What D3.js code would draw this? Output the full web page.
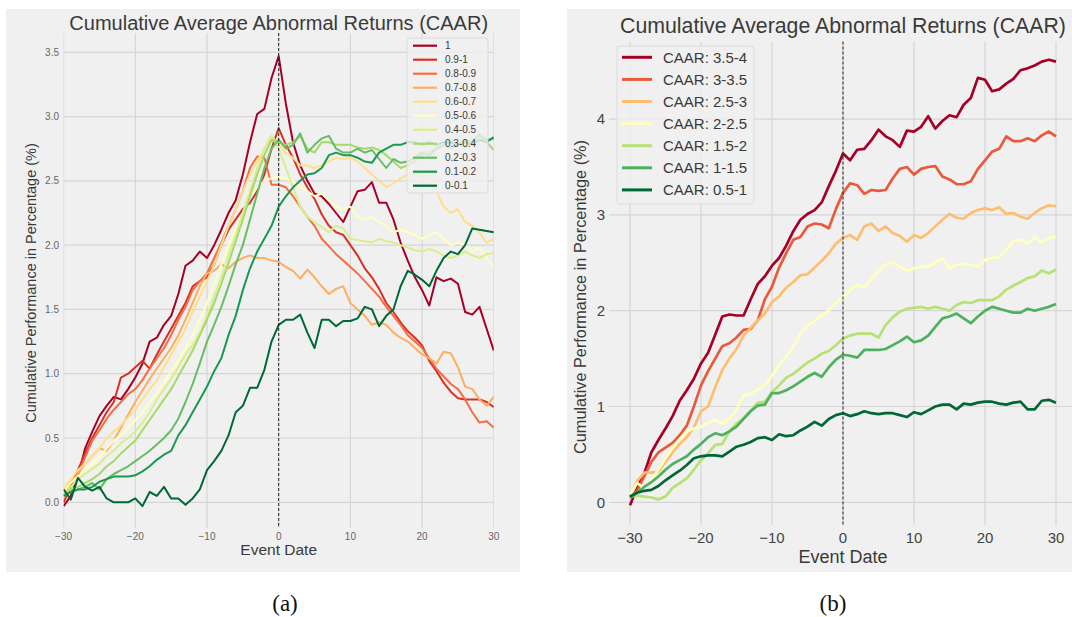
<!DOCTYPE html>
<html>
<head>
<meta charset="utf-8">
<script src="https://cdn.jsdelivr.net/npm/d3@7"></script>
<style>
  body { margin: 0; background: #ffffff; }
  text { font-family: "Liberation Sans", Arial, sans-serif; }
</style>
</head>
<body>
<svg id="chart" width="1072" height="617"></svg>
<script>
// ---------- data ----------
const eventDays = [-30,-29,-28,-27,-26,-25,-24,-23,-22,-21,-20,-19,-18,-17,-16,-15,-14,-13,-12,-11,
  -10,-9,-8,-7,-6,-5,-4,-3,-2,-1,0,1,2,3,4,5,6,7,8,9,10,11,12,13,14,15,16,17,18,19,20,
  21,22,23,24,25,26,27,28,29,30];

// Panel (a): CAAR by decile group
const decileLabels = ["1","0.9-1","0.8-0.9","0.7-0.8","0.6-0.7","0.5-0.6","0.4-0.5","0.3-0.4","0.2-0.3","0.1-0.2","0-0.1"];
const decile_1 = [-0.03,0.05,0.2,0.42,0.55,0.67,0.75,0.82,0.8,0.88, 0.97,1.08,1.25,1.28,1.38,1.45,1.62,1.84,1.88,1.95,
  1.9,2.0,2.12,2.25,2.35,2.55,2.8,3.02,3.06,3.3, 3.47,3.1,2.8,2.62,2.5,2.4,2.38,2.32,2.25,2.18,
  2.3,2.42,2.43,2.49,2.33,2.33,2.2,2.02,1.88,1.75, 1.65,1.53,1.75,1.72,1.74,1.7,1.48,1.46,1.52,1.35,1.18];
const decile_09_1 = [0.0,0.12,0.25,0.38,0.5,0.6,0.7,0.78,0.97,1.0, 1.05,1.1,1.04,1.15,1.25,1.35,1.45,1.55,1.68,1.72,
  1.75,1.85,2.0,2.12,2.2,2.28,2.33,2.42,2.55,2.75, 2.91,2.78,2.68,2.55,2.45,2.36,2.24,2.15,2.1,2.08,
  2.0,1.92,1.82,1.75,1.66,1.55,1.48,1.4,1.33,1.28, 1.22,1.1,1.02,0.93,0.86,0.81,0.8,0.8,0.8,0.78,0.74];
const decile_08_09 = [0.05,0.15,0.22,0.35,0.48,0.56,0.65,0.72,0.78,0.84, 0.88,0.95,1.04,1.12,1.2,1.3,1.42,1.52,1.65,1.72,
  1.78,1.9,2.02,2.15,2.28,2.42,2.6,2.69,2.68,2.47, 2.47,2.45,2.38,2.3,2.22,2.15,2.05,1.99,1.93,1.88,
  1.83,1.78,1.72,1.66,1.6,1.52,1.45,1.38,1.3,1.25, 1.2,1.12,1.04,0.98,0.92,0.88,0.8,0.7,0.62,0.63,0.58];
const decile_07_08 = [0.08,0.15,0.22,0.3,0.36,0.42,0.4,0.48,0.58,0.68, 0.78,0.87,0.96,1.04,1.12,1.2,1.3,1.42,1.55,1.68,
  1.78,1.8,1.85,1.82,1.87,1.9,1.92,1.9,1.9,1.88, 1.87,1.83,1.8,1.74,1.81,1.75,1.68,1.62,1.66,1.68,
  1.55,1.5,1.45,1.38,1.4,1.38,1.32,1.28,1.25,1.2, 1.15,1.12,1.08,1.17,1.16,1.05,0.9,0.88,0.8,0.75,0.82];
const decile_06_07 = [0.1,0.18,0.25,0.3,0.36,0.42,0.5,0.55,0.6,0.66, 0.72,0.8,0.88,0.95,1.05,1.15,1.25,1.35,1.48,1.6,
  1.72,1.85,2.0,2.15,2.28,2.42,2.55,2.65,2.75,2.85, 2.78,2.72,2.68,2.62,2.62,2.6,2.62,2.65,2.68,2.67,
  2.68,2.65,2.6,2.55,2.5,2.45,2.48,2.52,2.55,2.56, 2.55,2.52,2.42,2.3,2.25,2.28,2.18,2.15,2.1,2.02,2.05];
const decile_05_06 = [0.08,0.15,0.2,0.25,0.3,0.35,0.42,0.48,0.52,0.58, 0.64,0.7,0.78,0.85,0.93,1.02,1.1,1.2,1.3,1.42,
  1.55,1.7,1.85,2.0,2.12,2.25,2.38,2.45,2.5,2.52, 2.53,2.52,2.5,2.45,2.42,2.38,2.4,2.35,2.3,2.28,
  2.3,2.22,2.2,2.22,2.18,2.15,2.1,2.12,2.1,2.08, 2.05,2.08,2.1,2.05,2.0,2.02,2.0,1.95,1.98,1.9,1.83];
const decile_04_05 = [0.05,0.12,0.18,0.22,0.26,0.3,0.36,0.4,0.46,0.5, 0.55,0.62,0.7,0.8,0.88,0.96,1.05,1.15,1.22,1.32,
  1.45,1.6,1.75,1.92,2.08,2.25,2.42,2.6,2.75,2.85, 2.75,2.6,2.45,2.3,2.22,2.18,2.14,2.1,2.15,2.13,
  2.05,2.04,2.03,2.02,2.05,2.03,2.02,2.0,1.98,1.96, 1.95,1.97,1.95,1.92,1.9,1.92,1.95,1.92,1.9,1.93,1.94];
const decile_03_04 = [0.05,0.1,0.12,0.15,0.18,0.22,0.28,0.32,0.38,0.43, 0.48,0.56,0.64,0.72,0.8,0.88,0.98,1.08,1.18,1.3,
  1.42,1.55,1.7,1.86,2.03,2.2,2.38,2.55,2.7,2.82, 2.8,2.78,2.8,2.85,2.75,2.72,2.8,2.8,2.78,2.78,
  2.78,2.76,2.75,2.76,2.74,2.7,2.65,2.6,2.62,2.65, 2.7,2.72,2.75,2.78,2.75,2.8,2.75,2.82,2.85,2.8,2.74];
const decile_02_03 = [0.05,0.08,0.1,0.12,0.15,0.1,0.18,0.22,0.25,0.28, 0.32,0.36,0.4,0.45,0.5,0.56,0.65,0.78,0.92,1.08,
  1.25,1.38,1.52,1.68,1.85,2.0,2.2,2.4,2.6,2.75, 2.82,2.75,2.78,2.87,2.72,2.78,2.83,2.85,2.75,2.72,
  2.72,2.75,2.72,2.74,2.67,2.6,2.67,2.64,2.65,2.68, 2.72,2.7,2.75,2.78,2.8,2.78,2.82,2.8,2.86,2.82,2.83];
const decile_01_02 = [0.05,0.08,0.1,0.1,0.12,0.16,0.18,0.2,0.2,0.2, 0.21,0.24,0.28,0.33,0.37,0.4,0.52,0.6,0.7,0.8,
  0.9,1.02,1.12,1.3,1.45,1.65,1.82,1.95,2.05,2.15, 2.3,2.38,2.45,2.5,2.55,2.56,2.6,2.7,2.72,2.7,
  2.7,2.68,2.65,2.64,2.72,2.75,2.78,2.78,2.8,2.8, 2.78,2.8,2.78,2.8,2.8,2.78,2.8,2.78,2.82,2.8,2.84];
const decile_0_01 = [0.1,0.02,0.19,0.12,0.09,0.12,0.03,0.0,0.0,0.0, 0.03,-0.03,0.08,0.05,0.12,0.03,0.03,-0.02,0.03,0.1,
  0.25,0.32,0.4,0.52,0.7,0.75,0.89,0.89,1.03,1.25, 1.38,1.42,1.42,1.46,1.32,1.2,1.42,1.42,1.37,1.41,
  1.41,1.43,1.52,1.5,1.37,1.45,1.5,1.68,1.8,1.77, 1.73,1.68,1.8,1.9,1.95,1.93,2.0,2.13,2.12,2.11,2.1];

// Panel (b): CAAR by CAAR band
const bandLabels = ["CAAR: 3.5-4","CAAR: 3-3.5","CAAR: 2.5-3","CAAR: 2-2.5","CAAR: 1.5-2","CAAR: 1-1.5","CAAR: 0.5-1"];
const band_35_4 = [-0.03,0.15,0.3,0.52,0.65,0.77,0.9,1.06,1.17,1.29, 1.45,1.56,1.75,1.94,1.96,1.95,1.95,2.12,2.28,2.36,
  2.47,2.55,2.68,2.83,2.95,3.01,3.05,3.13,3.3,3.46, 3.64,3.57,3.68,3.69,3.78,3.89,3.82,3.78,3.71,3.88,
  3.87,3.92,4.03,3.9,3.98,4.04,4.02,4.15,4.22,4.43, 4.41,4.29,4.31,4.37,4.42,4.51,4.53,4.56,4.6,4.62,4.6];
const band_3_35 = [0.05,0.12,0.27,0.42,0.52,0.57,0.62,0.7,0.8,1.0, 1.22,1.37,1.5,1.63,1.66,1.72,1.8,1.81,1.9,2.12,
  2.25,2.45,2.6,2.74,2.77,2.88,2.91,2.9,2.86,3.06, 3.23,3.33,3.31,3.22,3.26,3.25,3.26,3.38,3.48,3.5,
  3.42,3.48,3.5,3.51,3.4,3.37,3.32,3.32,3.35,3.48, 3.57,3.66,3.69,3.82,3.77,3.77,3.8,3.77,3.83,3.87,3.82];
const band_25_3 = [0.06,0.22,0.31,0.31,0.32,0.42,0.52,0.61,0.68,0.78, 0.95,1.0,1.2,1.38,1.5,1.6,1.74,1.82,1.9,1.97,
  2.09,2.15,2.24,2.3,2.37,2.38,2.45,2.52,2.6,2.7, 2.76,2.79,2.74,2.88,2.91,2.83,2.88,2.81,2.78,2.72,
  2.79,2.76,2.81,2.88,2.95,3.01,2.97,2.96,3.02,3.05, 3.07,3.05,3.08,3.01,3.02,2.98,2.96,3.02,3.07,3.1,3.09];
const band_2_25 = [0.08,0.2,0.15,0.24,0.34,0.46,0.57,0.66,0.74,0.77, 0.79,0.83,0.86,0.82,0.87,0.97,1.12,1.13,1.18,1.22,
  1.32,1.43,1.52,1.62,1.76,1.85,1.89,1.95,2.0,2.08, 2.14,2.22,2.27,2.25,2.33,2.42,2.48,2.51,2.46,2.42,
  2.44,2.46,2.46,2.5,2.55,2.44,2.48,2.49,2.48,2.46, 2.53,2.55,2.56,2.63,2.73,2.74,2.7,2.77,2.71,2.76,2.77];
const band_15_2 = [0.06,0.07,0.06,0.05,0.03,0.06,0.15,0.2,0.25,0.34, 0.44,0.51,0.6,0.61,0.74,0.82,0.88,0.96,1.04,1.05,
  1.15,1.22,1.3,1.34,1.4,1.46,1.5,1.55,1.58,1.64, 1.71,1.74,1.76,1.76,1.76,1.72,1.85,1.93,1.99,2.02,
  2.03,2.04,2.02,2.04,2.02,2.0,2.06,2.09,2.08,2.11, 2.11,2.11,2.15,2.22,2.26,2.3,2.34,2.36,2.42,2.39,2.43];
const band_1_15 = [0.05,0.1,0.16,0.21,0.27,0.34,0.4,0.44,0.48,0.55, 0.61,0.68,0.72,0.7,0.74,0.79,0.87,0.95,1.01,1.02,
  1.14,1.14,1.17,1.21,1.26,1.31,1.35,1.31,1.41,1.49, 1.54,1.53,1.51,1.59,1.59,1.59,1.6,1.64,1.68,1.73,
  1.67,1.69,1.74,1.83,1.92,1.94,1.97,1.92,1.87,1.94, 2.0,2.04,2.02,2.0,1.98,1.98,2.02,2.0,2.02,2.04,2.07];
const band_05_1 = [0.06,0.1,0.12,0.13,0.17,0.23,0.28,0.33,0.39,0.46, 0.48,0.49,0.49,0.48,0.53,0.58,0.6,0.63,0.67,0.68,
  0.65,0.71,0.69,0.7,0.75,0.79,0.84,0.8,0.87,0.91, 0.93,0.9,0.92,0.95,0.93,0.92,0.93,0.93,0.91,0.89,
  0.94,0.92,0.96,1.0,1.02,1.02,0.97,1.03,1.02,1.04, 1.05,1.05,1.03,1.02,1.04,1.05,0.97,0.97,1.06,1.07,1.04];

// Tick values
const ticksXA = [-30,-20,-10,0,10,20,30];
const ticksYA = [0,0.5,1,1.5,2,2.5,3,3.5];
const ticksXB = [-30,-20,-10,0,10,20,30];
const ticksYB = [0,1,2,3,4];

const titleText = "Cumulative Average Abnormal Returns (CAAR)";
const xLabelText = "Event Date";
const yLabelText = "Cumulative Performance in Percentage (%)";

// ---------- colours (RdYlGn, reversed: red = high) ----------
const rdylgn = ["#a50026","#d73027","#f46d43","#fdae61","#fee08b","#ffffbf","#d9ef8b","#a6d96a","#66bd63","#1a9850","#006837"];
const paletteScale = d3.scaleLinear().domain(d3.range(11).map(i => i / 10)).range(rdylgn).interpolate(d3.interpolateRgb);

const seriesA = [decile_1, decile_09_1, decile_08_09, decile_07_08, decile_06_07, decile_05_06,
  decile_04_05, decile_03_04, decile_02_03, decile_01_02, decile_0_01]
  .map((vals, i, arr) => ({ label: decileLabels[i], values: vals, color: paletteScale(i / (arr.length - 1)) }));
const seriesB = [band_35_4, band_3_35, band_25_3, band_2_25, band_15_2, band_1_15, band_05_1]
  .map((vals, i, arr) => ({ label: bandLabels[i], values: vals, color: paletteScale(i / (arr.length - 1)) }));

// ---------- layout ----------
const panels = [
  {
    id: "a", series: seriesA,
    bg: { x: 6, y: 9, w: 514, h: 563 },
    xDomain: [-30, 30], xRange: [63.6, 493.8],
    yDomain: [-0.2, 3.65], yRange: [528, 33],
    xTicks: ticksXA, yTicks: ticksYA, yFmt: d3.format(".1f"),
    tickFont: 10, tickColor: "#666",
    yTickX: 59, xTickY: 536,
    title: { x: 278.7, y: 22.5, size: 20 },
    xLabel: { y: 549.5, size: 15.5 },
    yLabel: { x: 31, cy: 283, size: 14.5 },
    lineWidth: 2,
    legend: { x: 407, y: 38, w: 81, h: 155, y0: 45.7, step: 14.0, lx0: 413, lx1: 437, tx: 445, font: 10, lw: 2.2 },
    caption: { text: "(a)", x: 285, y: 603 }
  },
  {
    id: "b", series: seriesB,
    bg: { x: 567, y: 9, w: 505, h: 563 },
    xDomain: [-33, 33], xRange: [608.7, 1077.3],
    yDomain: [-0.237, 4.81], yRange: [525, 41.5],
    xTicks: ticksXB, yTicks: ticksYB, yFmt: d3.format("d"),
    tickFont: 15, tickColor: "#444",
    yTickX: 605, xTickY: 537.5,
    title: { x: 843, y: 25.5, size: 21.3 },
    xLabel: { y: 557, size: 18 },
    yLabel: { x: 580, cy: 297, size: 16.3 },
    lineWidth: 2.7,
    legend: { x: 617, y: 46, w: 137, h: 158, y0: 57.3, step: 22.1, lx0: 622, lx1: 652, tx: 663, font: 15, lw: 3 },
    caption: { text: "(b)", x: 833, y: 603 }
  }
];

const svg = d3.select("#chart");
svg.append("rect").attr("width", 1072).attr("height", 617).attr("fill", "#ffffff");

panels.forEach(p => {
  const g = svg.append("g").attr("class", "panel-" + p.id);
  const x = d3.scaleLinear().domain(p.xDomain).range(p.xRange);
  const y = d3.scaleLinear().domain(p.yDomain).range(p.yRange);
  const top = p.yRange[1], bottom = p.yRange[0];

  // panel background
  g.append("rect").attr("x", p.bg.x).attr("y", p.bg.y).attr("width", p.bg.w).attr("height", p.bg.h)
    .attr("fill", "#f0f0f0");

  const clipId = "clip-" + p.id;
  g.append("clipPath").attr("id", clipId).append("rect")
    .attr("x", p.xRange[0]).attr("y", top)
    .attr("width", p.xRange[1] - p.xRange[0]).attr("height", bottom - top);

  // grid
  const grid = g.append("g").attr("clip-path", `url(#${clipId})`);
  grid.selectAll("line.gy").data(p.yTicks).join("line").attr("class", "gy")
    .attr("x1", p.xRange[0]).attr("x2", p.xRange[1])
    .attr("y1", d => y(d)).attr("y2", d => y(d))
    .attr("stroke", "#d6d6d6").attr("stroke-width", 1.2);
  grid.selectAll("line.gx").data(p.xTicks).join("line").attr("class", "gx")
    .attr("x1", d => x(d)).attr("x2", d => x(d))
    .attr("y1", top).attr("y2", bottom)
    .attr("stroke", "#d6d6d6").attr("stroke-width", 1.2);

  // tick labels
  g.selectAll("text.yt").data(p.yTicks).join("text").attr("class", "yt")
    .attr("x", p.yTickX).attr("y", d => y(d)).attr("dy", "0.35em")
    .attr("text-anchor", "end").attr("font-size", p.tickFont).attr("fill", p.tickColor)
    .text(d => p.yFmt(d));
  g.selectAll("text.xt").data(p.xTicks).join("text").attr("class", "xt")
    .attr("x", d => x(d)).attr("y", p.xTickY).attr("dy", "0.35em")
    .attr("text-anchor", "middle").attr("font-size", p.tickFont).attr("fill", p.tickColor)
    .text(d => d3.format("d")(d));

  // series lines
  const line = d3.line().x((d, i) => x(eventDays[i])).y(d => y(d));
  const lines = g.append("g").attr("clip-path", `url(#${clipId})`);
  lines.selectAll("path").data(p.series).join("path")
    .attr("d", d => line(d.values))
    .attr("fill", "none").attr("stroke", d => d.color)
    .attr("stroke-width", p.lineWidth).attr("stroke-linejoin", "round");

  // event-day marker
  g.append("line").attr("x1", x(0)).attr("x2", x(0)).attr("y1", top).attr("y2", bottom)
    .attr("stroke", "#222").attr("stroke-width", 1).attr("stroke-dasharray", "3,2");

  // titles and labels
  g.append("text").attr("x", p.title.x).attr("y", p.title.y).attr("dy", "0.35em")
    .attr("text-anchor", "middle").attr("font-size", p.title.size).attr("fill", "#3a3a3a")
    .text(titleText);
  g.append("text").attr("x", x(0)).attr("y", p.xLabel.y).attr("dy", "0.35em")
    .attr("text-anchor", "middle").attr("font-size", p.xLabel.size).attr("fill", "#3a3a3a")
    .text(xLabelText);
  g.append("text")
    .attr("transform", `translate(${p.yLabel.x},${p.yLabel.cy}) rotate(-90)`)
    .attr("dy", "0.35em").attr("text-anchor", "middle")
    .attr("font-size", p.yLabel.size).attr("fill", "#3a3a3a")
    .text(yLabelText);

  // legend
  const L = p.legend;
  const lg = g.append("g");
  lg.append("rect").attr("x", L.x).attr("y", L.y).attr("width", L.w).attr("height", L.h)
    .attr("rx", 3).attr("fill", "#f0f0f0").attr("fill-opacity", 0.8)
    .attr("stroke", "#dcdcdc").attr("stroke-width", 1);
  const items = lg.selectAll("g.item").data(p.series).join("g").attr("class", "item")
    .attr("transform", (d, i) => `translate(0,${L.y0 + i * L.step})`);
  items.append("line").attr("x1", L.lx0).attr("x2", L.lx1)
    .attr("stroke", d => d.color).attr("stroke-width", L.lw);
  items.append("text").attr("x", L.tx).attr("dy", "0.35em")
    .attr("font-size", L.font).attr("fill", "#3a3a3a").text(d => d.label);

  // caption
  svg.append("text").attr("x", p.caption.x).attr("y", p.caption.y).attr("dy", "0.35em")
    .attr("text-anchor", "middle").attr("font-size", 23)
    .style("font-family", "'Liberation Serif', 'DejaVu Serif', serif").attr("fill", "#111")
    .text(p.caption.text);
});
</script>
</body>
</html>
